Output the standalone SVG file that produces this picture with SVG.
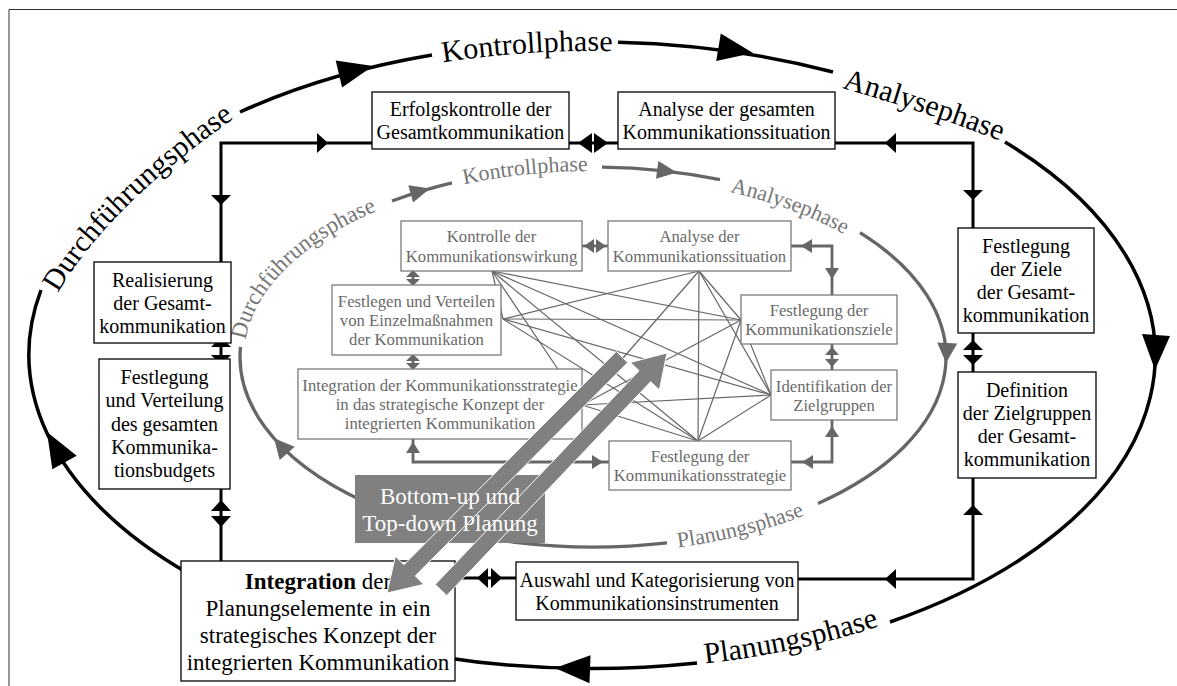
<svg xmlns="http://www.w3.org/2000/svg" width="1177" height="686" viewBox="0 0 1177 686">
<style>
.ob{fill:#fff;stroke:#000;stroke-width:1.3}
.ib{fill:#fff;stroke:#7a7a7a;stroke-width:1.3}
.ot{font-family:"Liberation Serif","Times New Roman",serif;font-size:20px;fill:#000;text-anchor:middle}
.it{font-family:"Liberation Serif","Times New Roman",serif;font-size:16.7px;fill:#6a6a6a;text-anchor:middle}
.oarc{fill:none;stroke:#000;stroke-width:3.5}
.iarc{fill:none;stroke:#666;stroke-width:3.3}
.oph{font-family:"Liberation Serif","Times New Roman",serif;font-size:30px;fill:#000}
.iph{font-family:"Liberation Serif","Times New Roman",serif;font-size:22px;fill:#777}
.oc{fill:none;stroke:#000;stroke-width:3}
.ic{fill:none;stroke:#666;stroke-width:2.8}
.net line{stroke:#666;stroke-width:1.2}
.bk{fill:#000}
.gy{fill:#666}
.big{fill:#808080;stroke:#fff;stroke-width:1}
</style>
<defs>
<path id="tpD" d="M 58 293 Q 107.5 207.3 232 120"/>
<path id="tpK" d="M 443 62.4 A 553 305 0 0 1 800 73.2"/>
<path id="tpA" d="M 842 88 Q 923 111 998 140"/>
<path id="tpP" d="M 705 663.5 A 563 314 0 0 0 1000 573"/>
<path id="itpD" d="M 245.5 340 A 349 186 0 0 1 593 171"/>
<path id="itpK" d="M 464 184.2 A 349 186 0 0 1 700 180"/>
<path id="itpA" d="M 730 192 A 343 180 0 0 1 936 357"/>
<path id="itpP" d="M 678 547.4 A 359 196 0 0 0 952 357"/>
</defs>
<path id="frame" d="M 9 690 V 9.5 H 1180" fill="none" stroke="#333" stroke-width="1"/>

<g id="outer-cycle">
<path class="oarc" d="M 697 663 A 563 314 0 0 1 41 290"/>
<path class="oarc" d="M 240 112 A 563 314 0 0 1 432 55"/>
<path class="oarc" d="M 618 42.3 A 563 314 0 0 1 833 72"/>
<path class="oarc" d="M 1005 142 A 563 314 0 0 1 890 622"/>
<polygon class="bk" points="373,66 342.1,87.6 335.7,60.4"/>
<polygon class="bk" points="753,53 716.2,61.1 720.8,33.5"/>
<polygon class="bk" points="1155,370 1142,334 1170,336"/>
<polygon class="bk" points="555,668 590.5,655.3 589.5,683.3"/>
<polygon class="bk" points="47,432 76.7,455.7 52.3,469.3"/>
<text class="oph"><textPath href="#tpD">Durchführungsphase</textPath></text>
<text class="oph"><textPath href="#tpK">Kontrollphase</textPath></text>
<text class="oph"><textPath href="#tpA">Analysephase</textPath></text>
<text class="oph"><textPath href="#tpP">Planungsphase</textPath></text>
</g>

<g id="inner-cycle">
<path class="iarc" d="M 392 201 A 353 190 0 0 1 452 182.8"/>
<path class="iarc" d="M 602 167.1 A 353 190 0 0 1 720 179.7"/>
<path class="iarc" d="M 860 232.7 A 353 190 0 0 1 818 503.4"/>
<path class="iarc" d="M 667 542.8 A 353 190 0 0 1 240.5 347"/>
<polygon class="gy" points="430,188.5 413.1,202.6 408.3,185.2"/>
<polygon class="gy" points="677,172.5 656,178.8 658.4,161"/>
<polygon class="gy" points="946,363 937.2,342.4 957.2,343.6"/>
<polygon class="gy" points="274,438.3 294.7,446.7 279.7,459.9"/>
<text class="iph" style="font-size:23px"><textPath href="#itpD">Durchführungsphase</textPath></text>
<text class="iph"><textPath href="#itpK">Kontrollphase</textPath></text>
<text class="iph"><textPath href="#itpA">Analysephase</textPath></text>
<text class="iph"><textPath href="#itpP">Planungsphase</textPath></text>
</g>

<g id="network" class="net">
<line x1="492" y1="271" x2="503" y2="319"/>
<line x1="492" y1="271" x2="741" y2="320"/>
<line x1="492" y1="271" x2="771" y2="395"/>
<line x1="492" y1="271" x2="698" y2="441"/>
<line x1="492" y1="271" x2="582" y2="405"/>
<line x1="503" y1="319" x2="699" y2="271"/>
<line x1="503" y1="319" x2="741" y2="320"/>
<line x1="503" y1="319" x2="771" y2="395"/>
<line x1="503" y1="319" x2="698" y2="441"/>
<line x1="699" y1="271" x2="582" y2="405"/>
<line x1="699" y1="271" x2="741" y2="320"/>
<line x1="699" y1="271" x2="771" y2="395"/>
<line x1="699" y1="271" x2="698" y2="441"/>
<line x1="741" y1="320" x2="582" y2="405"/>
<line x1="741" y1="320" x2="698" y2="441"/>
<line x1="741" y1="320" x2="771" y2="395"/>
<line x1="771" y1="395" x2="582" y2="405"/>
<line x1="771" y1="395" x2="698" y2="441"/>
<line x1="698" y1="441" x2="582" y2="405"/>
</g>

<g id="connectors">
<path class="oc" d="M 372 143 H 221 V 262"/>
<polygon class="bk" points="317,133 328,143 317,153"/>
<polygon class="bk" points="211,195 231,195 221,205"/>
<path class="oc" d="M 835 143 H 973 V 228"/>
<polygon class="bk" points="896,133 885,143 896,153"/>
<polygon class="bk" points="963,190 983,190 973,200"/>
<path class="oc" d="M 798 579 H 973 V 478"/>
<polygon class="bk" points="896,569 885,579 896,589"/>
<polygon class="bk" points="963,515 983,515 973,505"/>
<path class="oc" d="M 569 143 H 618"/>
<polygon class="bk" points="578,143 592,133 592,153"/>
<polygon class="bk" points="608,143 594,133 594,153"/>
<path class="oc" d="M 221 343 V 359"/>
<polygon class="bk" points="221,337 211,347 231,347"/>
<polygon class="bk" points="221,365 211,355 231,355"/>
<path class="oc" d="M 221 489 V 561"/>
<polygon class="bk" points="221,500 211,511 231,511"/>
<polygon class="bk" points="221,527 211,516 231,516"/>
<path class="oc" d="M 973 333 V 372"/>
<polygon class="bk" points="973,340 963,350 983,350"/>
<polygon class="bk" points="973,365 963,355 983,355"/>
<path class="oc" d="M 455 578 H 516"/>
<polygon class="bk" points="477,578 488,568 488,588"/>
<polygon class="bk" points="502,578 491,568 491,588"/>

<path class="ic" d="M 791 246 H 832 V 295"/>
<polygon class="gy" points="801,246 812,239 812,253"/>
<polygon class="gy" points="825,268 839,268 832,279"/>
<path class="ic" d="M 832 420 V 462 H 791"/>
<polygon class="gy" points="832,426 825,437 839,437"/>
<polygon class="gy" points="802,462 813,455 813,469"/>
<path class="ic" d="M 413 439 V 462 H 609"/>
<polygon class="gy" points="413,442 406,453 420,453"/>
<polygon class="gy" points="603,462 592,455 592,469"/>
<path class="ic" d="M 582 246 H 608"/>
<polygon class="gy" points="584,246 594,239 594,253"/>
<polygon class="gy" points="606,246 596,239 596,253"/>
<path class="ic" d="M 413 271 V 285"/>
<polygon class="gy" points="413,270 406,277 420,277"/>
<polygon class="gy" points="413,286 406,279 420,279"/>
<path class="ic" d="M 413 355 V 369"/>
<polygon class="gy" points="413,354 406,361 420,361"/>
<polygon class="gy" points="413,370 406,363 420,363"/>
<path class="ic" d="M 832 344 V 370"/>
<polygon class="gy" points="832,347 825,355 839,355"/>
<polygon class="gy" points="832,367 825,359 839,359"/>
</g>

<g id="n-erfolgskontrolle"><rect class="ob" x="372" y="92" width="197" height="57"/>
<text class="ot" x="470.5" y="116">Erfolgskontrolle der</text><text class="ot" x="470.5" y="139">Gesamtkommunikation</text></g>
<g id="n-analyse-gesamt"><rect class="ob" x="618" y="92" width="217" height="57"/>
<text class="ot" x="726.5" y="116">Analyse der gesamten</text><text class="ot" x="726.5" y="139">Kommunikationssituation</text></g>
<g id="n-realisierung"><rect class="ob" x="94" y="262" width="137" height="81"/>
<text class="ot" x="162.5" y="287">Realisierung</text><text class="ot" x="162.5" y="310">der Gesamt-</text><text class="ot" x="162.5" y="333">kommunikation</text></g>
<g id="n-budget"><rect class="ob" x="99" y="359" width="131" height="130"/>
<text class="ot" x="164.5" y="384">Festlegung</text><text class="ot" x="164.5" y="407">und Verteilung</text><text class="ot" x="164.5" y="431">des gesamten</text><text class="ot" x="164.5" y="454">Kommunika-</text><text class="ot" x="164.5" y="477">tionsbudgets</text></g>
<g id="n-ziele"><rect class="ob" x="958" y="228" width="136" height="105"/>
<text class="ot" x="1026" y="253">Festlegung</text><text class="ot" x="1026" y="276">der Ziele</text><text class="ot" x="1026" y="299">der Gesamt-</text><text class="ot" x="1026" y="322">kommunikation</text></g>
<g id="n-zielgruppen"><rect class="ob" x="958" y="372" width="138" height="106"/>
<text class="ot" x="1027" y="397">Definition</text><text class="ot" x="1027" y="420">der Zielgruppen</text><text class="ot" x="1027" y="443">der Gesamt-</text><text class="ot" x="1027" y="466">kommunikation</text></g>
<g id="n-auswahl"><rect class="ob" x="516" y="562" width="282" height="58"/>
<text class="ot" x="657" y="587">Auswahl und Kategorisierung von</text><text class="ot" x="657" y="610">Kommunikationsinstrumenten</text></g>
<g id="n-integration"><rect class="ob" x="181" y="561" width="274" height="120"/>
<text class="ot" x="318" y="588.5" style="font-size:23px"><tspan font-weight="bold">Integration</tspan> der</text>
<text class="ot" x="318" y="615.5" style="font-size:23px">Planungselemente in ein</text>
<text class="ot" x="318" y="642.5" style="font-size:23px">strategisches Konzept der</text>
<text class="ot" x="318" y="669.5" style="font-size:23px">integrierten Kommunikation</text></g>

<g id="i-kontrolle"><rect class="ib" x="401" y="221" width="181" height="50"/>
<text class="it" x="491.5" y="242">Kontrolle der</text><text class="it" x="491.5" y="261.5">Kommunikationswirkung</text></g>
<g id="i-analyse"><rect class="ib" x="608" y="221" width="183" height="50"/>
<text class="it" x="699.5" y="242">Analyse der</text><text class="it" x="699.5" y="261.5">Kommunikationssituation</text></g>
<g id="i-festlegen"><rect class="ib" x="332" y="285" width="169" height="70"/>
<text class="it" x="416.5" y="307">Festlegen und Verteilen</text><text class="it" x="416.5" y="326">von Einzelmaßnahmen</text><text class="it" x="416.5" y="345">der Kommunikation</text></g>
<g id="i-integration"><rect class="ib" x="298" y="369" width="284" height="70"/>
<text class="it" x="440" y="391">Integration der Kommunikationsstrategie</text><text class="it" x="440" y="410">in das strategische Konzept der</text><text class="it" x="440" y="429">integrierten Kommunikation</text></g>
<g id="i-ziele"><rect class="ib" x="741" y="295" width="156" height="49"/>
<text class="it" x="819" y="315.5">Festlegung der</text><text class="it" x="819" y="335">Kommunikationsziele</text></g>
<g id="i-zielgruppen"><rect class="ib" x="771" y="370" width="126" height="50"/>
<text class="it" x="834" y="391.5">Identifikation der</text><text class="it" x="834" y="411">Zielgruppen</text></g>
<g id="i-strategie"><rect class="ib" x="609" y="441" width="182" height="49"/>
<text class="it" x="700" y="461.5">Festlegung der</text><text class="it" x="700" y="481">Kommunikationsstrategie</text></g>

<g id="n-bottom-up">
<rect x="355" y="475" width="190" height="68" fill="#808080"/>
<g id="planning-arrows">
<polygon class="big" points="627.7,362.6 415.3,575.9 423.8,584.4 387,593 395.4,556.2 403.9,564.7 616.3,351.4"/>
<polygon class="big" points="446.8,595.5 650.7,381.7 659.4,390 667,353 630.4,362.4 639.1,370.7 435.2,584.5"/>
</g>
<text x="450" y="503.5" style="font-family:'Liberation Serif','Times New Roman',serif;font-size:23px;fill:#fff;text-anchor:middle">Bottom-up und</text>
<text x="450" y="530.5" style="font-family:'Liberation Serif','Times New Roman',serif;font-size:23px;fill:#fff;text-anchor:middle">Top-down Planung</text>
</g>
</svg>
